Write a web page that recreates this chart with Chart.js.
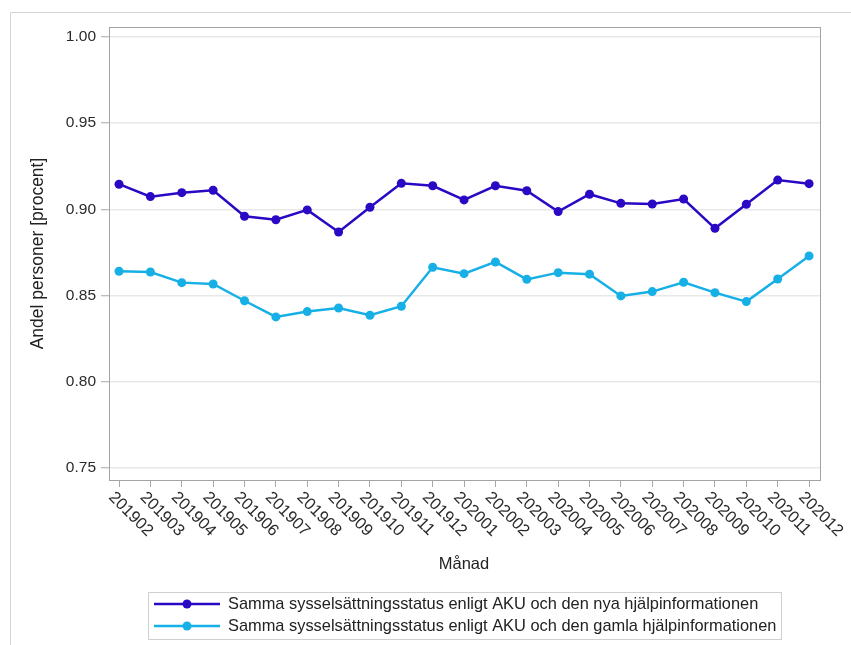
<!DOCTYPE html>
<html>
<head>
<meta charset="utf-8">
<script src="https://cdn.jsdelivr.net/npm/chart.js@4"></script>
<style>
  html, body { margin: 0; padding: 0; background: #ffffff; }
  #wrap { position: relative; width: 851px; height: 645px; }
  canvas { display: block; }
</style>
</head>
<body>
<div id="wrap"><canvas id="c" width="851" height="645"></canvas></div>
<script>
const months = ['201902','201903','201904','201905','201906','201907','201908','201909','201910','201911','201912',
                '202001','202002','202003','202004','202005','202006','202007','202008','202009','202010','202011','202012'];
const nya = [0.9146,0.9074,0.9097,0.9111,0.8960,0.8940,0.8997,0.8869,0.9012,0.9151,0.9137,
             0.9055,0.9137,0.9108,0.8987,0.9088,0.9035,0.9031,0.9060,0.8890,0.9030,0.9170,0.9149];
const gamla = [0.8641,0.8637,0.8575,0.8567,0.8470,0.8376,0.8407,0.8428,0.8386,0.8438,0.8664,
               0.8627,0.8695,0.8594,0.8633,0.8624,0.8498,0.8523,0.8577,0.8517,0.8465,0.8596,0.8730];
const yTicks = [0.75, 0.80, 0.85, 0.90, 0.95, 1.00];
const seriesLabels = ['Samma sysselsättningsstatus enligt AKU och den nya hjälpinformationen',
                      'Samma sysselsättningsstatus enligt AKU och den gamla hjälpinformationen'];
const xTitle = 'Månad';
const yTitle = 'Andel personer [procent]';

const FONT = '"Liberation Sans", Arial, sans-serif';
const colNya = '#2a08c4';
const colGamla = '#17b0e6';

const toPts = arr => arr.map((v, i) => ({ x: i, y: v }));

const decor = {
  id: 'decor',
  afterDraw(chart) {
    const ctx = chart.ctx;
    const a = chart.chartArea;
    const xs = chart.scales.x;
    ctx.save();
    // outer frame
    ctx.strokeStyle = '#d4d4d4';
    ctx.lineWidth = 1;
    ctx.beginPath();
    ctx.moveTo(10.5, 645);
    ctx.lineTo(10.5, 12.5);
    ctx.lineTo(851, 12.5);
    ctx.stroke();
    // plot border
    ctx.strokeStyle = '#a3a3a3';
    ctx.strokeRect(Math.round(a.left) + 0.5, Math.round(a.top) + 0.5,
                   Math.round(a.right - a.left) - 1, Math.round(a.bottom - a.top));
    // x tick labels rotated
    ctx.fillStyle = '#2b2b2b';
    ctx.font = '16.5px ' + FONT;
    ctx.textAlign = 'left';
    ctx.textBaseline = 'alphabetic';
    months.forEach((m, i) => {
      const px = xs.getPixelForValue(i);
      ctx.save();
      ctx.translate(px - 11, 498);
      ctx.rotate(Math.PI / 4);
      ctx.fillText(m, 0, 0);
      ctx.restore();
    });
    // axis titles
    ctx.fillStyle = '#222222';
    ctx.textAlign = 'center';
    ctx.textBaseline = 'middle';
    ctx.font = '16.5px ' + FONT;
    ctx.fillText(xTitle, (a.left + a.right) / 2 - 1, 564);
    ctx.font = '17.5px ' + FONT;
    ctx.save();
    ctx.translate(38, (a.top + a.bottom) / 2);
    ctx.rotate(-Math.PI / 2);
    ctx.fillText(yTitle, 0, 0);
    ctx.restore();
    // legend
    const ds = chart.data.datasets;
    ctx.font = '16.4px ' + FONT;
    let maxW = 0;
    ds.forEach(d => { maxW = Math.max(maxW, ctx.measureText(d.label).width); });
    const bx = 148.5, by = 592.5;
    const textX = 228;
    const bw = Math.round(textX + maxW + 5 - bx);
    const bh = 47;
    ctx.strokeStyle = '#d0d0d0';
    ctx.lineWidth = 1;
    ctx.strokeRect(bx, by, bw, bh);
    ds.forEach((d, k) => {
      const ry = 604 + k * 22;
      ctx.strokeStyle = d.borderColor;
      ctx.lineWidth = 2.5;
      ctx.beginPath();
      ctx.moveTo(154, ry);
      ctx.lineTo(220, ry);
      ctx.stroke();
      ctx.fillStyle = d.borderColor;
      ctx.beginPath();
      ctx.arc(187, ry, 4.5, 0, Math.PI * 2);
      ctx.fill();
      ctx.fillStyle = '#222222';
      ctx.textAlign = 'left';
      ctx.textBaseline = 'middle';
      ctx.fillText(d.label, textX, ry);
    });
    ctx.restore();
  }
};

new Chart(document.getElementById('c'), {
  type: 'line',
  data: {
    datasets: [
      { label: seriesLabels[0], data: toPts(nya), borderColor: colNya, backgroundColor: colNya,
        borderWidth: 2.5, pointRadius: 4.5, pointBorderWidth: 0, pointBackgroundColor: colNya, tension: 0 },
      { label: seriesLabels[1], data: toPts(gamla), borderColor: colGamla, backgroundColor: colGamla,
        borderWidth: 2.5, pointRadius: 4.5, pointBorderWidth: 0, pointBackgroundColor: colGamla, tension: 0 }
    ]
  },
  options: {
    responsive: false,
    animation: false,
    devicePixelRatio: 1,
    layout: { padding: { top: 27, right: 30, left: 0, bottom: 0 } },
    plugins: { legend: { display: false }, title: { display: false }, tooltip: { enabled: false } },
    scales: {
      x: {
        type: 'linear',
        min: -0.32,
        max: 22.38,
        afterBuildTicks: s => { s.ticks = months.map((m, i) => ({ value: i })); },
        afterFit: s => { s.height = 165; },
        ticks: { display: false },
        grid: { drawOnChartArea: false, drawTicks: true, tickLength: 7, tickColor: '#a8a8a8', tickWidth: 1 },
        border: { display: false }
      },
      y: {
        type: 'linear',
        min: 0.743,
        max: 1.0058,
        afterBuildTicks: s => { s.ticks = yTicks.map(v => ({ value: v })); },
        afterFit: s => { s.width = 109; },
        ticks: {
          padding: 5,
          color: '#2b2b2b',
          font: { family: FONT, size: 15.5 },
          callback: v => Number(v).toFixed(2)
        },
        grid: { color: '#e8e8e8', lineWidth: 1.5, tickLength: 8, tickColor: '#a8a8a8', tickWidth: 1 },
        border: { display: false }
      }
    }
  },
  plugins: [decor]
});
</script>
</body>
</html>
